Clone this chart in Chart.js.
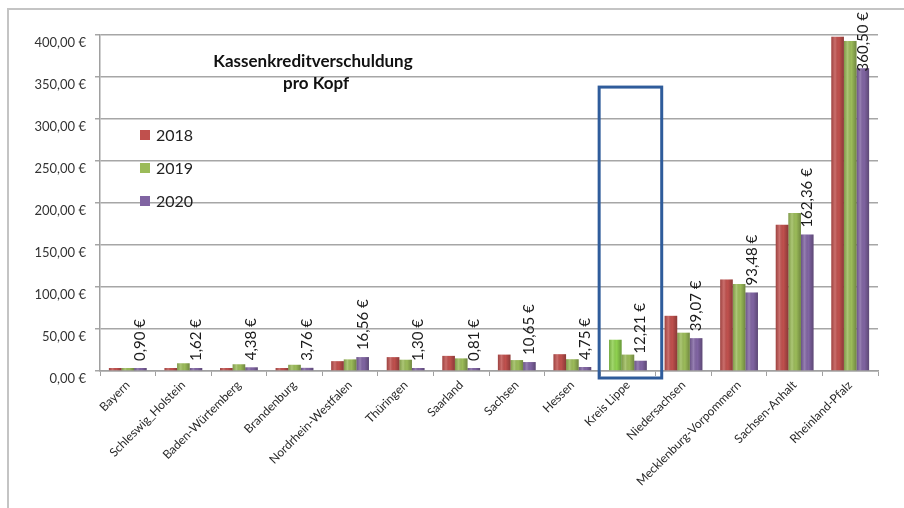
<!DOCTYPE html>
<html>
<head>
<meta charset="utf-8">
<script src="https://cdn.jsdelivr.net/npm/chart.js@4.4.1/dist/chart.umd.min.js"></script>
<style>
  html, body { margin: 0; padding: 0; background: #fff; }
  #wrap { position: relative; width: 904px; height: 508px; overflow: hidden; }
  #frame { position: absolute; left: 7px; top: 8px; right: -4px; bottom: -4px;
           border-top: 2px solid #c4c4c4; border-left: 2px solid #c4c4c4; }
  canvas { position: absolute; left: 0; top: 0; }
</style>
</head>
<body>
<div id="wrap">
  <div id="frame"></div>
  <canvas id="chart" width="904" height="508"></canvas>
</div>
<script>
// --- data ---
const categories = ['Bayern', 'Schleswig_Holstein', 'Baden-Würtemberg', 'Brandenburg', 'Nordrhein-Westfalen',
  'Thüringen', 'Saarland', 'Sachsen', 'Hessen', 'Kreis Lippe', 'Niedersachsen',
  'Mecklenburg-Vorpommern', 'Sachsen-Anhalt', 'Rheinland-Pfalz'];
const years = ['2018', '2019', '2020'];
const values2018 = [1.2, 2.8, 3.2, 3.0, 11.7, 16.5, 18.0, 19.5, 20.0, 37.2, 65.7, 109.0, 174.0, 398.0];
const values2019 = [2.9, 9.2, 8.0, 7.4, 13.8, 13.4, 15.0, 13.0, 14.0, 19.5, 45.6, 103.5, 188.0, 393.0];
const values2020 = [0.90, 1.62, 4.38, 3.76, 16.56, 1.30, 0.81, 10.65, 4.75, 12.21, 39.07, 93.48, 162.36, 360.50];
const yTicks = [0, 50, 100, 150, 200, 250, 300, 350, 400];
const highlighted = 'Kreis Lippe';

const RED = '#c0504d', GREEN = '#9bbb59', PURPLE = '#8064a2', LIME = '#8fd14f';
const FONT = 'Lato, "Open Sans", sans-serif';
const fmt = v => v.toFixed(2).replace('.', ',') + ' €';

// 2018 bar of Kreis Lippe is drawn in a lighter green in the original
const colors2018 = categories.map(c => c === highlighted ? LIME : RED);

// cylinder-ish shading on each bar
const shadePlugin = {
  id: 'shade',
  afterDatasetsDraw(chart) {
    const ctx = chart.ctx;
    chart.data.datasets.forEach((ds, di) => {
      chart.getDatasetMeta(di).data.forEach(bar => {
        const w = bar.width, l = bar.x - w / 2;
        const g = ctx.createLinearGradient(l, 0, l + w, 0);
        g.addColorStop(0, 'rgba(0,0,0,0.18)');
        g.addColorStop(0.3, 'rgba(255,255,255,0.18)');
        g.addColorStop(0.6, 'rgba(0,0,0,0)');
        g.addColorStop(1, 'rgba(0,0,0,0.28)');
        ctx.save();
        ctx.fillStyle = g;
        ctx.fillRect(l, bar.y, w, bar.base - bar.y);
        ctx.restore();
      });
    });
  }
};

// values of 2020 written vertically above the purple bars
const labelPlugin = {
  id: 'valueLabels',
  afterDatasetsDraw(chart) {
    const ctx = chart.ctx;
    const meta = chart.getDatasetMeta(2);
    ctx.save();
    ctx.font = '15px ' + FONT;
    ctx.fillStyle = '#1a1a1a';
    ctx.textAlign = 'left';
    ctx.textBaseline = 'middle';
    meta.data.forEach((bar, i) => {
      const txt = fmt(values2020[i]);
      const len = ctx.measureText(txt).width;
      let bottom = bar.y - 7;
      if (bottom - len < 12) bottom = 12 + len;
      ctx.save();
      ctx.translate(bar.x, bottom);
      ctx.rotate(-Math.PI / 2);
      ctx.fillText(txt, 0, 0);
      ctx.restore();
    });
    ctx.restore();
  }
};

// title, legend inside the plot, and the blue box round Kreis Lippe
const overlayPlugin = {
  id: 'overlay',
  afterDraw(chart) {
    const ctx = chart.ctx;
    const x = chart.scales.x, y = chart.scales.y;
    ctx.save();
    // title
    ctx.fillStyle = '#111';
    ctx.font = 'bold 17px ' + FONT;
    ctx.textAlign = 'center';
    ctx.textBaseline = 'middle';
    ctx.fillText('Kassenkreditverschuldung', 313, 62);
    ctx.fillText('pro Kopf', 316, 84);
    // legend
    ctx.textAlign = 'left';
    ctx.font = '16px ' + FONT;
    chart.data.datasets.forEach((ds, i) => {
      const cy = 135 + i * 33;
      ctx.fillStyle = ds.legendColor;
      ctx.fillRect(140, cy - 5, 10, 10);
      ctx.fillStyle = '#222';
      ctx.fillText(ds.label, 156, cy + 1);
    });
    // highlight box
    const idx = categories.indexOf(highlighted);
    const cw = (x.right - x.left) / categories.length;
    const left = x.getPixelForValue(idx) - cw / 2 - 1;
    ctx.strokeStyle = '#2f5c9b';
    ctx.lineWidth = 3;
    ctx.strokeRect(left, y.getPixelForValue(338), cw + 7, y.getPixelForValue(0) + 7 - y.getPixelForValue(338));
    ctx.restore();
  }
};

new Chart(document.getElementById('chart'), {
  type: 'bar',
  data: {
    labels: categories,
    datasets: [
      { label: years[0], data: values2018, backgroundColor: colors2018, legendColor: RED },
      { label: years[1], data: values2019, backgroundColor: GREEN, legendColor: GREEN },
      { label: years[2], data: values2020, backgroundColor: PURPLE, legendColor: PURPLE }
    ]
  },
  options: {
    responsive: false,
    animation: false,
    layout: { padding: { top: 35, left: 10, right: 26, bottom: 0 } },
    datasets: { bar: { categoryPercentage: 0.68, barPercentage: 1.0, minBarLength: 3 } },
    plugins: { legend: { display: false }, tooltip: { enabled: false } },
    scales: {
      x: {
        afterFit: s => { s.height = 137; },
        grid: { drawOnChartArea: false, drawTicks: true, tickLength: 5, color: '#a0a0a0' },
        border: { color: '#a0a0a0', width: 1.5 },
        ticks: {
          autoSkip: false, maxRotation: 45, minRotation: 45, padding: 2,
          color: '#2a2a2a', font: { family: FONT, size: 12 }
        }
      },
      y: {
        min: 0, max: 400,
        afterFit: s => { s.width = 90; },
        afterBuildTicks: s => { s.ticks = yTicks.map(v => ({ value: v })); },
        grid: { color: '#a6a6a6', lineWidth: 1.5, tickLength: 5 },
        border: { color: '#a0a0a0', width: 1.5 },
        ticks: {
          labelOffset: 8, padding: 9,
          color: '#333', font: { family: FONT, size: 13 },
          callback: v => fmt(v)
        }
      }
    }
  },
  plugins: [shadePlugin, labelPlugin, overlayPlugin]
});
</script>
</body>
</html>
